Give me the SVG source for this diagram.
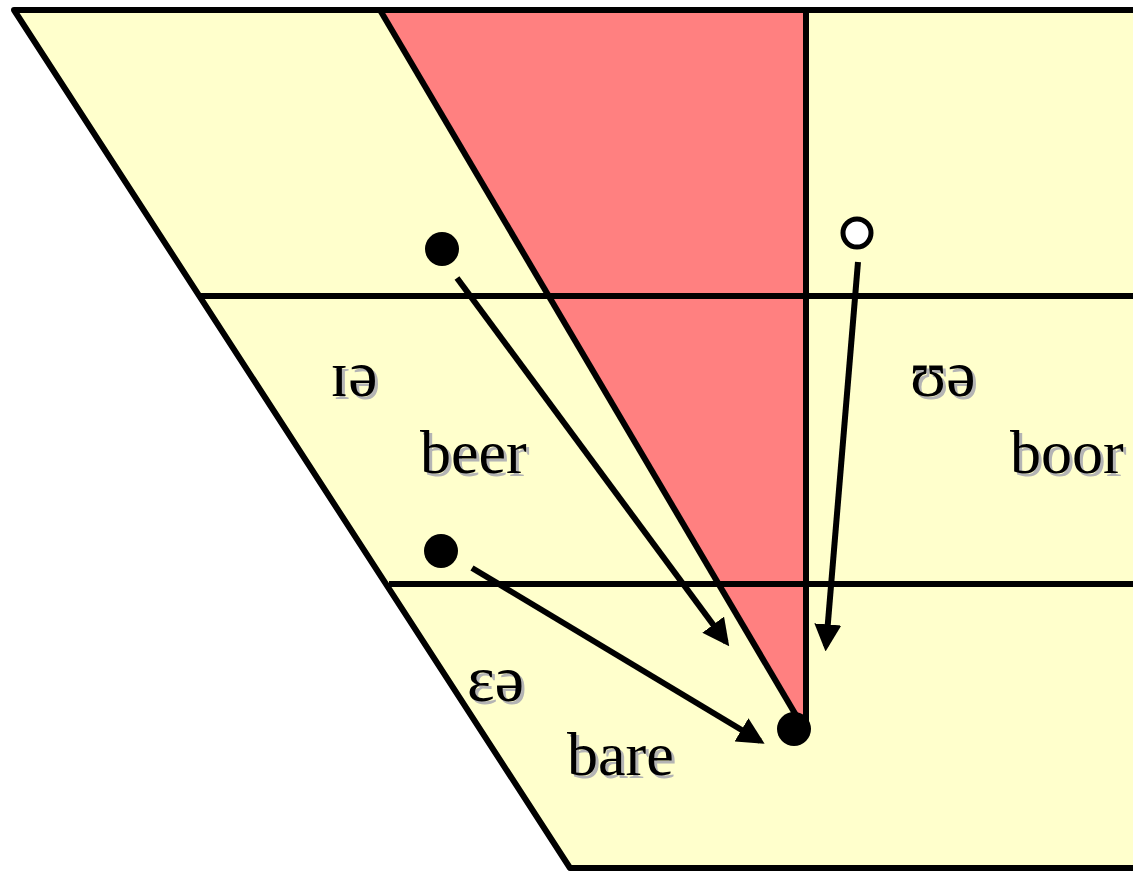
<svg xmlns="http://www.w3.org/2000/svg" width="1133" height="873" viewBox="0 0 1133 873">
<defs>
<style>
.ln{stroke:#000;stroke-width:6;fill:none}
.t{font-family:"Liberation Serif","Times New Roman",serif;font-size:62px;fill:#000}
.s{font-family:"Liberation Serif","Times New Roman",serif;font-size:62px;fill:#b4b4b4}
.ipa{font-size:66px}
.arr{stroke:#000;stroke-width:6;fill:none;marker-end:url(#ah)}
</style>
<marker id="ah" viewBox="0 0 10 10" refX="8" refY="5" markerWidth="4.5" markerHeight="4.5" orient="auto" markerUnits="strokeWidth">
<path d="M0,0 L10,5 L0,10 z" fill="#000"/>
</marker>
</defs>
<rect width="1133" height="873" fill="#fff"/>
<g id="chart">
<polygon points="14,10 1140,10 1140,868 570,868" fill="#ffffcc"/>
<polygon points="380,10 806,10 806,722 800,722" fill="#ff8080"/>
<path class="ln" d="M1140,10 L14,10 L570,868 L1140,868" stroke-linejoin="round"/>
<path class="ln" d="M380,10 L800,722"/>
<path class="ln" d="M806,10 L806,722"/>
<path class="ln" d="M199,296 L1140,296"/>
<path class="ln" d="M389,584 L1140,584"/>
</g>
<g id="connectors">
<path class="arr" d="M457,278 L726,642"/>
<path class="arr" d="M472,568 L760,741"/>
<path class="arr" d="M858,262 L826,646"/>
</g>
<g id="node-ie">
<circle cx="442" cy="249" r="17" fill="#000"/>
<text class="s ipa" x="333" y="399">ɪə</text>
<text class="t ipa" x="330" y="396">ɪə</text>
<text class="s" x="423" y="476">beer</text>
<text class="t" x="420" y="473">beer</text>
</g>
<g id="node-ea">
<circle cx="441" cy="551" r="17" fill="#000"/>
<text class="s ipa" x="470" y="704">ɛə</text>
<text class="t ipa" x="467" y="701">ɛə</text>
<text class="s" x="570" y="778">bare</text>
<text class="t" x="567" y="775">bare</text>
</g>
<g id="node-ua">
<circle cx="857" cy="233" r="14" fill="#fff" stroke="#000" stroke-width="5"/>
<text class="s ipa" x="913" y="399">ʊə</text>
<text class="t ipa" x="910" y="396">ʊə</text>
<text class="s" x="1013" y="476">boor</text>
<text class="t" x="1010" y="473">boor</text>
</g>
<g id="node-target">
<circle cx="794" cy="729" r="17" fill="#000"/>
</g>
</svg>
